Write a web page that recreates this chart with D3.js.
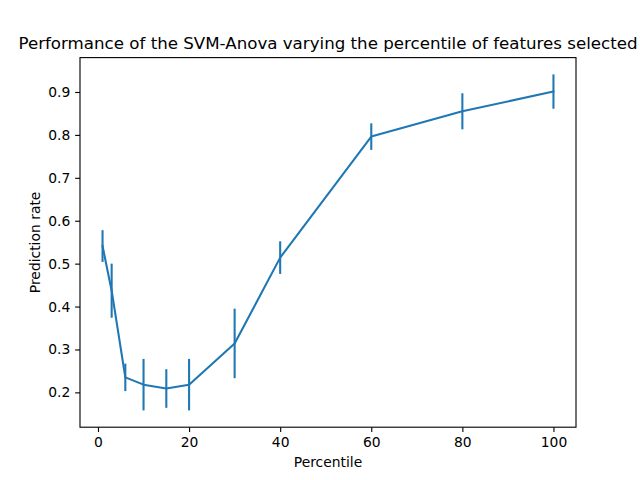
<!DOCTYPE html>
<html><head><meta charset="utf-8">
<script src="https://cdn.jsdelivr.net/npm/d3@7"></script>
<style>body{margin:0;background:#fff}svg{display:block}text{font-family:"DejaVu Sans",sans-serif;fill:#000}</style>
</head><body>
<svg id="c" width="640" height="480"></svg>
<script>
const percentiles = [1, 3, 6, 10, 15, 20, 30, 40, 60, 80, 100];
const scoreMeans = [0.541, 0.437, 0.235, 0.218, 0.209, 0.218, 0.314, 0.514, 0.796, 0.855, 0.901];
const scoreStds = [0.037, 0.063, 0.032, 0.060, 0.045, 0.060, 0.081, 0.038, 0.031, 0.042, 0.040];
const xTicks = [0, 20, 40, 60, 80, 100];
const yTicks = [0.2, 0.3, 0.4, 0.5, 0.6, 0.7, 0.8, 0.9];

const W = 640, H = 480;
const L = 80, R = 576, T = 57.6, B = 427.2;
const svg = d3.select("#c");
const color = "#1f77b4";

const data = percentiles.map((p, i) => ({x: p, m: scoreMeans[i], s: scoreStds[i]}));
const xmin = d3.min(percentiles), xmax = d3.max(percentiles);
const xm = (xmax - xmin) * 0.05;
const x = d3.scaleLinear().domain([xmin - xm, xmax + xm]).range([L, R]);
const ylo = d3.min(data, d => d.m - d.s), yhi = d3.max(data, d => d.m + d.s);
const ym = (yhi - ylo) * 0.05;
const y = d3.scaleLinear().domain([ylo - ym, yhi + ym]).range([B, T]);

const g = svg.append("g");
g.selectAll("line.err").data(data).enter().append("line")
  .attr("x1", d => x(d.x)).attr("x2", d => x(d.x))
  .attr("y1", d => y(d.m - d.s)).attr("y2", d => y(d.m + d.s))
  .attr("stroke", color).attr("stroke-width", 2.08);
g.append("path").datum(data)
  .attr("d", d3.line().x(d => x(d.x)).y(d => y(d.m)))
  .attr("fill", "none").attr("stroke", color).attr("stroke-width", 2.08)
  .attr("stroke-linejoin", "round").attr("stroke-linecap", "square");

const xa = svg.append("g").attr("transform", `translate(0,${B})`)
  .call(d3.axisBottom(x).tickValues(xTicks).tickFormat(d3.format("d")).tickSize(4.86).tickPadding(4.86).tickSizeOuter(0));
const ya = svg.append("g").attr("transform", `translate(${L},0)`)
  .call(d3.axisLeft(y).tickValues(yTicks).tickFormat(d3.format(".1f")).tickSize(4.86).tickPadding(4.86).tickSizeOuter(0));
[xa, ya].forEach(a => {
  a.select(".domain").remove();
  a.selectAll("line").attr("stroke", "#000").attr("stroke-width", 1.11);
  a.selectAll("text").attr("font-size", 13.89).attr("font-family", "DejaVu Sans").attr("fill", "#000");
});

svg.append("rect").attr("x", L).attr("y", T).attr("width", R - L).attr("height", B - T)
  .attr("fill", "none").attr("stroke", "#000").attr("stroke-width", 1.11);

svg.append("text").attr("x", (L + R) / 2).attr("y", T - 8.33)
  .attr("text-anchor", "middle").attr("font-size", 16.67)
  .text("Performance of the SVM-Anova varying the percentile of features selected");
svg.append("text").attr("x", (L + R) / 2).attr("y", 467)
  .attr("text-anchor", "middle").attr("font-size", 13.89).text("Percentile");
svg.append("text").attr("transform", `translate(39.5,${(T + B) / 2}) rotate(-90)`)
  .attr("text-anchor", "middle").attr("font-size", 13.89).text("Prediction rate");
</script>
</body></html>
